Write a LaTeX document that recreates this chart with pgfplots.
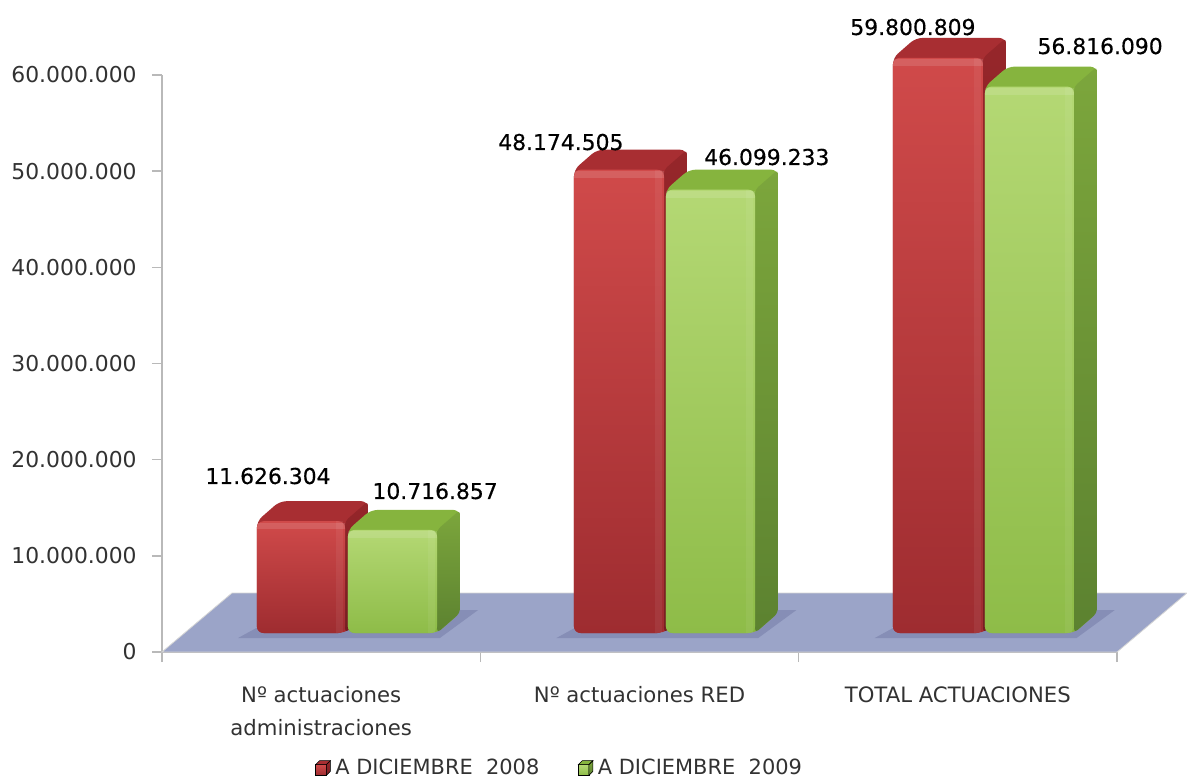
\documentclass[border=0pt]{standalone}
\usepackage{fontspec}
\setmainfont{DejaVu Sans}
\newfontfamily\valuefont[FakeBold=0.35]{DejaVu Sans}
\usepackage{pgfplots}
\pgfplotsset{compat=1.18}

\definecolor{floorblue}{RGB}{155,164,200}
\definecolor{floorshadow}{RGB}{134,142,182}
\definecolor{axisgray}{RGB}{185,185,185}
\definecolor{labelgray}{RGB}{50,50,50}

% bar faces, 1px = 0.75pt
\tikzset{
  barshift/.style={yshift=14.25pt},
  redfront/.style={top color={rgb,255:red,208;green,74;blue,74}, bottom color={rgb,255:red,158;green,44;blue,48}},
  redtop/.style={fill={rgb,255:red,168;green,46;blue,50}},
  redside/.style={top color={rgb,255:red,150;green,38;blue,42}, bottom color={rgb,255:red,118;green,30;blue,34}},
  greenfront/.style={top color={rgb,255:red,180;green,216;blue,116}, bottom color={rgb,255:red,142;green,188;blue,72}},
  greentop/.style={fill={rgb,255:red,134;green,180;blue,62}},
  greenside/.style={top color={rgb,255:red,124;green,166;blue,60}, bottom color={rgb,255:red,92;green,130;blue,48}},
}

% #1 #2 front left/right, #3 #4 back left/right, #5 value, #6 value + depth, #7 series
\newcommand{\threedbar}[7]{
  % silhouette first, so no gaps show at the rounded joints
  \addplot[barshift, draw=none, rounded corners=5pt, #7top, forget plot] coordinates {(#1,0) (#1,#5) (#3,#6) (#4,#6) (#4,2080000) (#2,0)} --cycle;
  \addplot[barshift, draw=none, rounded corners=3pt, #7side, forget plot] coordinates {(#2,0) (#4,2080000) (#4,#6) (#2,#5)} --cycle;
  \addplot[barshift, draw=none, rounded corners=5pt, #7front, forget plot] coordinates {(#1,0) (#1,#5) (#2,#5) (#2,0)} --cycle;
  \addplot[barshift, yshift=-3.5pt, white, opacity=0.12, line width=5pt, forget plot] coordinates {(#1,#5) (#2,#5)};
  \addplot[barshift, xshift=-4pt, white, opacity=0.06, line width=5pt, forget plot] coordinates {(#2,0) (#2,#5)};
}

\begin{document}
\begin{tikzpicture}
\path[use as bounding box] (0,0) rectangle (890.25pt,583.5pt);
\begin{axis}[
  at={(121.5pt,94.5pt)},
  anchor=south west,
  scale only axis,
  width=716.25pt,
  height=432.75pt,
  clip=false,
  xmin=0, xmax=3,
  ymin=0, ymax=60000000,
  axis x line=bottom,
  axis y line=left,
  axis line style={axisgray, line width=1.3pt, -},
  tick align=outside,
  major tick length=7.5pt,
  minor tick length=7.5pt,
  tick style={axisgray, line width=1.1pt},
  major x tick style={draw=none},
  xtick={0.5,1.5,2.5},
  minor xtick={0,1,2,3},
  xticklabels={{Nº actuaciones\\administraciones}, {Nº actuaciones RED}, {TOTAL ACTUACIONES}},
  xticklabel style={align=center, font=\fontsize{15.9pt}{24.7pt}\selectfont, text=labelgray, yshift=-15pt},
  scaled y ticks=false,
  ytick={0,10000000,20000000,30000000,40000000,50000000,60000000},
  yticklabels={0,10.000.000,20.000.000,30.000.000,40.000.000,50.000.000,60.000.000},
  yticklabel style={font=\fontsize{16.4pt}{18pt}\selectfont, text=labelgray, xshift=-8pt},
  legend style={at={(0.4168,-0.201)}, anchor=center, draw=none, fill=none, legend columns=2,
    font=\fontsize{15.7pt}{16pt}\selectfont, text=labelgray, /tikz/every even column/.append style={column sep=27pt}},
]
% floor
\addplot[draw=axisgray!60, line width=0.6pt, fill=floorblue, forget plot] coordinates {(0,0) (3,0) (3.22,6135000) (0.22,6135000)} --cycle;
% floor shadows
\addplot[draw=none, fill=floorshadow, forget plot] coordinates {(0.239,1456000) (0.873,1456000) (0.993,4367000) (0.40,4367000)} --cycle;
\addplot[draw=none, fill=floorshadow, forget plot] coordinates {(1.239,1456000) (1.873,1456000) (1.993,4367000) (1.40,4367000)} --cycle;
\addplot[draw=none, fill=floorshadow, forget plot] coordinates {(2.239,1456000) (2.873,1456000) (2.993,4367000) (2.40,4367000)} --cycle;

\threedbar{0.298}{0.575}{0.370}{0.647}{11626304}{13706304}{red}
\threedbar{0.584}{0.864}{0.656}{0.936}{10716857}{12796857}{green}
\threedbar{1.294}{1.577}{1.366}{1.649}{48174505}{50254505}{red}
\threedbar{1.583}{1.863}{1.655}{1.935}{46099233}{48179233}{green}
\threedbar{2.296}{2.579}{2.368}{2.651}{59800809}{61880809}{red}
\threedbar{2.585}{2.865}{2.657}{2.937}{56816090}{58896090}{green}

% value labels
\addplot[draw=none, mark=none, forget plot, point meta=explicit symbolic,
  nodes near coords, nodes near coords align={center},
  every node near coord/.append style={font=\valuefont\fontsize{16.4pt}{18pt}\selectfont, text=black, anchor=center}]
  table[meta=label] {
    x y label
    0.333 18300000 11.626.304
    0.858 16740000 10.716.857
    1.253 53030000 48.174.505
    1.900 51470000 46.099.233
    2.359 64990000 59.800.809
    2.947 63010000 56.816.090
  };

\addlegendimage{legend image code/.code={
  \fill[redfront] (0pt,-5.5pt) rectangle (8pt,2.5pt);
  \fill[redtop] (0pt,2.5pt) -- (3pt,5.5pt) -- (11pt,5.5pt) -- (8pt,2.5pt) -- cycle;
  \fill[redside] (8pt,-5.5pt) -- (11pt,-2.5pt) -- (11pt,5.5pt) -- (8pt,2.5pt) -- cycle;
}}
\addlegendentry{\hspace{1.5pt}A DICIEMBRE\ \ 2008}
\addlegendimage{legend image code/.code={
  \fill[greenfront] (0pt,-5.5pt) rectangle (8pt,2.5pt);
  \fill[greentop] (0pt,2.5pt) -- (3pt,5.5pt) -- (11pt,5.5pt) -- (8pt,2.5pt) -- cycle;
  \fill[greenside] (8pt,-5.5pt) -- (11pt,-2.5pt) -- (11pt,5.5pt) -- (8pt,2.5pt) -- cycle;
}}
\addlegendentry{\hspace{1.5pt}A DICIEMBRE\ \ 2009}
\end{axis}
\end{tikzpicture}
\end{document}
